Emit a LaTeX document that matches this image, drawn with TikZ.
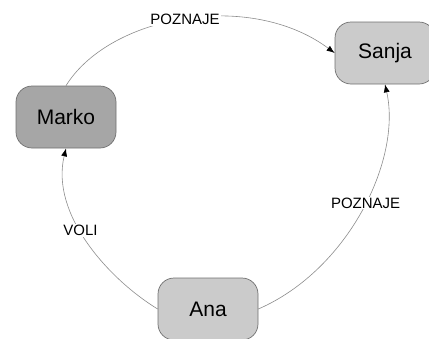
\documentclass[tikz,border=0pt]{standalone}
\usepackage{fontspec}
\setmainfont{Liberation Sans}
\usetikzlibrary{arrows.meta}

\definecolor{boxline}{HTML}{707070}
\definecolor{darkbox}{HTML}{A6A6A6}
\definecolor{lightbox}{HTML}{CBCBCB}
\definecolor{edgeline}{HTML}{8C8C8C}

\begin{document}
\begin{tikzpicture}[x=1pt,y=-1pt,
  person/.style={draw=boxline, line width=0.7pt, rounded corners=16pt,
    minimum width=100pt, minimum height=62pt, inner sep=0pt,
    font=\fontsize{21}{24}\selectfont},
  rel/.style={draw=edgeline, line width=0.6pt,
    -{Latex[length=8pt,width=6pt,black]}},
  lbl/.style={fill=white, inner sep=1pt, font=\fontsize{15}{17}\selectfont}]
\useasboundingbox (0,0) rectangle (429,338);

\node[person, fill=darkbox] (marko) at (66,117) {Marko};
\node[person, fill=lightbox] (sanja) at (385,53) {Sanja};
\node[person, fill=lightbox] (ana) at (208,309) {Ana};

\draw[rel] (marko.north) .. controls (110,15) and (250,-10) ..
  node[lbl, pos=0.5] {POZNAJE} (sanja.west);
\draw[rel] (ana.east) .. controls (348,270) and (402,160) ..
  node[lbl, pos=0.53] {POZNAJE} (sanja.south);
\draw[rel] (ana.west) .. controls (110,280) and (50,215) ..
  node[lbl, pos=0.57] {VOLI} (marko.south);
\end{tikzpicture}
\end{document}
